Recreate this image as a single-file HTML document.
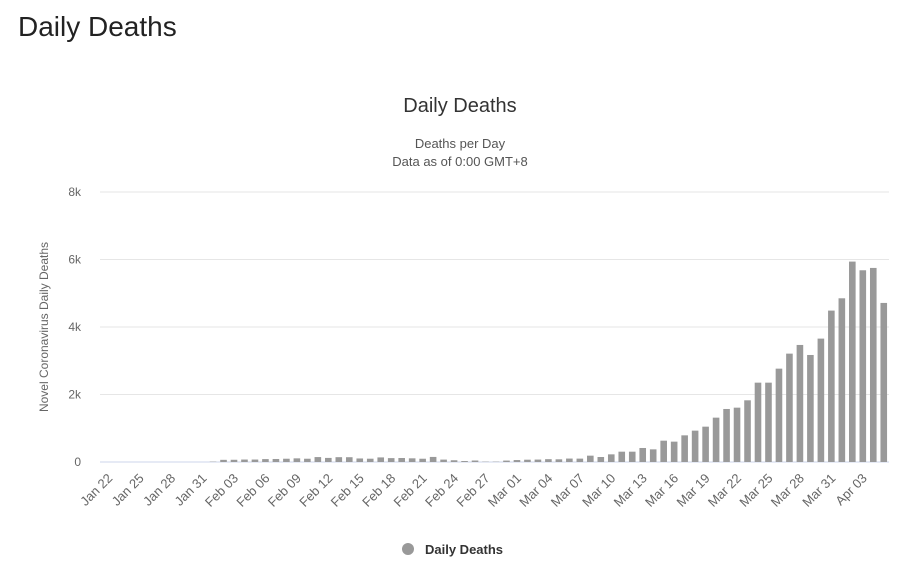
<!DOCTYPE html>
<html><head><meta charset="utf-8"><style>
body{margin:0;background:#fff;font-family:"Liberation Sans",sans-serif;}
#page-title{position:absolute;left:18px;top:11px;font-size:28px;color:#222;margin:0;font-weight:normal}
</style></head><body>
<h1 id="page-title">Daily Deaths</h1>
<svg id="chart" width="900" height="571" style="position:absolute;left:0;top:0"></svg>
<script>
const categories=[];
(function(){const m=["Jan","Feb","Mar","Apr"];const d0=new Date(2020,0,22);for(let i=0;i<75;i++){const d=new Date(d0.getTime()+i*86400000);categories.push(m[d.getMonth()]+" "+String(d.getDate()).padStart(2,"0"));}})();
const deaths=[0,0,0,0,0,0,0,0,0,0,10,64,66,73,73,86,89,97,108,97,146,121,143,142,105,98,136,115,118,109,97,150,71,52,29,44,10,10,42,58,68,72,84,80,102,100,188,148,227,306,306,415,375,632,603,790,929,1047,1314,1571,1610,1828,2351,2351,2766,3211,3468,3171,3656,4486,4851,5938,5681,5750,4713];
const yTicks=[0,2000,4000,6000,8000];
const yTickLabels=["0","2k","4k","6k","8k"];
const NS="http://www.w3.org/2000/svg";
const svg=document.getElementById("chart");
const L=103,R=889,T=192,B=462,yMax=8000;
const bw=(R-L)/categories.length;
const y=v=>B-(v/yMax)*(B-T);
const x=i=>L+i*bw+bw/2;
function mk(t,a,txt){const e=document.createElementNS(NS,t);for(const k in a)e.setAttribute(k,a[k]);if(txt!=null)e.textContent=txt;svg.appendChild(e);return e;}
let e;
e=mk("text",{x:460,y:112,"text-anchor":"middle","font-size":20,fill:"#333"},"Daily Deaths");


e=mk("text",{x:460,y:148,"text-anchor":"middle","font-size":13,fill:"#555"},"Deaths per Day");


e=mk("text",{x:460,y:166,"text-anchor":"middle","font-size":13,fill:"#555"},"Data as of 0:00 GMT+8");


yTicks.forEach((v,i)=>{
 e=mk("line",{x1:100,x2:R,y1:y(v),y2:y(v),stroke:i==0?"#ccd6eb":"#e6e6e6","stroke-width":1});
 
 
 e=mk("text",{x:81,y:y(v)+4,"text-anchor":"end","font-size":12,fill:"#666"},yTickLabels[i]);
 
 
});
e=mk("text",{x:0,y:0,"text-anchor":"middle","font-size":12,fill:"#666",transform:"translate(48,327) rotate(-90)"},"Novel Coronavirus Daily Deaths");


deaths.forEach((v,i)=>{
 const h=B-y(v);
 e=mk("rect",{x:x(i)-3.3,y:y(v),width:6.6,height:h,fill:"#999"});
 
 
});
categories.forEach((c,i)=>{
 if(i%3!==0)return;
 e=mk("text",{x:0,y:0,"text-anchor":"end","font-size":13,fill:"#666",transform:`translate(${x(i)+5},${B+17}) rotate(-45)`},c);
 
 
});
e=mk("circle",{cx:408,cy:549,r:6,fill:"#999"});


e=mk("text",{x:425,y:554,"font-size":13,"font-weight":"bold",fill:"#333"},"Daily Deaths");


</script>
</body></html>
